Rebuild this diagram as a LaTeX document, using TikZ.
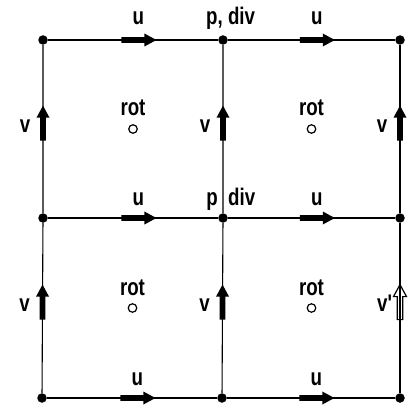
\documentclass[tikz,border=0pt]{standalone}
\usepackage{fontspec}
\newfontfamily\lblfont[FakeStretch=0.78]{Liberation Sans}
\usetikzlibrary{calc}
\begin{document}
\begin{tikzpicture}[x=1pt,y=-1pt,
  gridpt/.style={circle,fill=black,inner sep=0pt,minimum size=9.5pt},
  gridline/.style={line width=1.1pt},
  lbl/.style={font=\lblfont\bfseries\fontsize{24}{24}\selectfont,inner sep=0pt,anchor=base},
  rotpt/.style={circle,draw,line width=1.2pt,inner sep=0pt,minimum size=8.5pt},
  pics/flux/.style={code={
    \path[#1] (-17,-2.8) -- (6,-2.8) -- (6,-6.5) -- (18,0) -- (6,6.5) -- (6,2.8) -- (-17,2.8) -- cycle;}},
]
\useasboundingbox (0,0) rectangle (414,406);

% grid points (columns a,b,c; rows 1 top to 3 bottom)
\node[gridpt] (a1) at (43,40) {};
\node[gridpt] (b1) at (223,40) {};
\node[gridpt] (c1) at (400,40) {};
\node[gridpt] (a2) at (43,218) {};
\node[gridpt] (b2) at (223,218) {};
\node[gridpt] (c2) at (400,218) {};
\node[gridpt] (a3) at (42,398) {};
\node[gridpt] (b3) at (222,398) {};
\node[gridpt] (c3) at (400,398) {};

% grid lines
\draw[gridline] (a1) -- (b1) -- (c1);
\draw[gridline] (a2) -- (b2) -- (c2);
\draw[gridline] (a3) -- (b3) -- (c3);
\draw[gridline] (a1) -- (a2) -- (a3);
\draw[gridline] (b1) -- (b2) -- (b3);
\draw[gridline] (c1) -- (c2) -- (c3);

% u velocities on horizontal edges
\foreach \l/\r/\tp in {a1/b1/15, b1/c1/15, a2/b2/13, b2/c2/13, a3/b3/13, b3/c3/13} {
  \path ($(\l)!0.53!(\r)$) pic {flux={fill=black}};
  \node[lbl] (u-\l) at ($(\l)!0.53!(\r)+(0,-\tp)$) {u};
}

% v velocities on vertical edges (pointing up)
\foreach \b/\t in {a2/a1, b2/b1, c2/c1, a3/a2, b3/b2} {
  \path ($(\b)!0.53!(\t)$) pic[rotate=90] {flux={fill=black}};
  \node[lbl] (v-\b) at ($(\b)!0.53!(\t)+(-18,9)$) {v};
}
\path ($(c3)!0.53!(c2)$) pic[rotate=90] {flux={draw=black,line width=1.2pt}};
\node[lbl,anchor=base west] (v-c3) at ($(c3)!0.53!(c2)+(-23,9)$) {v'};

% rotation points at cell centres
\foreach \p/\q in {a1/b2, b1/c2, a2/b3, b2/c3} {
  \node[rotpt] (r-\p) at ($(\p)!0.5!(\q)$) {};
  \node[lbl] (rl-\p) at ($(\p)!0.5!(\q)+(0,-13)$) {rot};
}

% pressure / divergence points
\node[lbl,anchor=base west] (pdiv1) at ($(b1)+(-17,-15)$) {p, div};
\node[lbl,anchor=base east] (p2) at ($(b2)+(-5,-13)$) {p};
\node[lbl,anchor=base west] (div2) at ($(b2)+(5,-13)$) {div};
\end{tikzpicture}
\end{document}
